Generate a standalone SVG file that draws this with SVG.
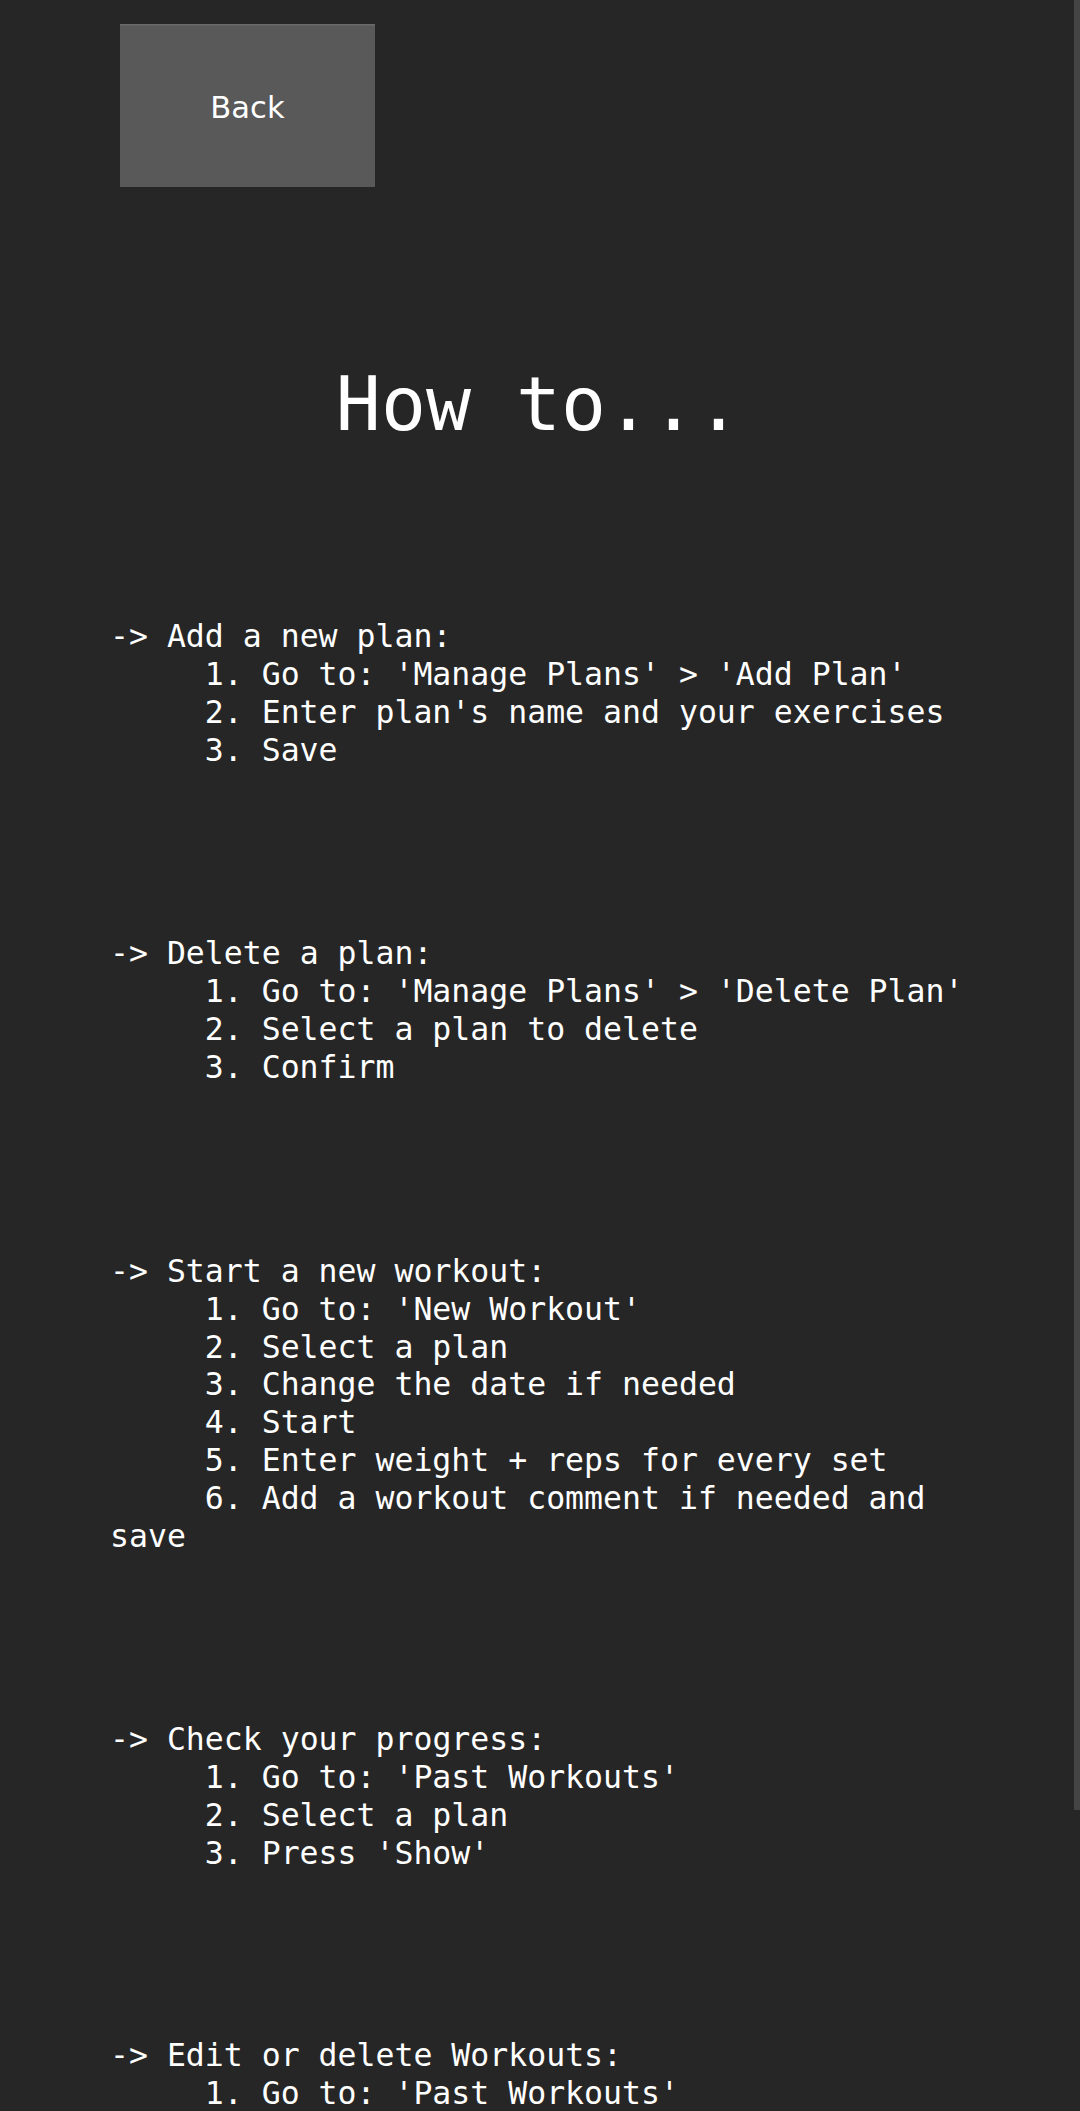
<svg xmlns="http://www.w3.org/2000/svg" width="1080" height="2111" viewBox="0 0 1080 2111">
  <style>
    .bg { fill: #262626; }
    .btn { fill: #595959; }
    .btnedge { fill: #6a6a6a; }
    .btntxt { font-family: "DejaVu Sans", sans-serif; font-size: 30.6px; fill: #ffffff; text-anchor: middle; }
    .title { font-family: "DejaVu Sans Mono", monospace; font-size: 74.8px; fill: #ffffff; text-anchor: middle; }
    .body { font-family: "DejaVu Sans Mono", monospace; font-size: 31.5px; fill: #ffffff; }
    .scroll { fill: #444444; }
  </style>
  <rect class="bg" x="0" y="0" width="1080" height="2111"/>
  <rect class="scroll" x="1074" y="0" width="6" height="1810"/>

  <g id="back-button">
    <rect class="btn" x="120" y="24" width="255" height="163"/>
    <rect class="btnedge" x="120" y="24" width="255" height="1.5"/>
    <text class="btntxt" x="247.5" y="118">Back</text>
  </g>

  <g id="title">
    <text class="title" x="538.5" y="430">How to...</text>
  </g>

  <g id="section-add-plan" class="body">
    <text x="110" y="647.3">-&gt; Add a new plan:</text>
    <text x="204.8" y="685.2">1. Go to: 'Manage Plans' &gt; 'Add Plan'</text>
    <text x="204.8" y="723.1">2. Enter plan's name and your exercises</text>
    <text x="204.8" y="761">3. Save</text>
  </g>

  <g id="section-delete-plan" class="body">
    <text x="110" y="964.4">-&gt; Delete a plan:</text>
    <text x="204.8" y="1002.3">1. Go to: 'Manage Plans' &gt; 'Delete Plan'</text>
    <text x="204.8" y="1040.2">2. Select a plan to delete</text>
    <text x="204.8" y="1078.1">3. Confirm</text>
  </g>

  <g id="section-new-workout" class="body">
    <text x="110" y="1281.7">-&gt; Start a new workout:</text>
    <text x="204.8" y="1319.6">1. Go to: 'New Workout'</text>
    <text x="204.8" y="1357.5">2. Select a plan</text>
    <text x="204.8" y="1395.4">3. Change the date if needed</text>
    <text x="204.8" y="1433.3">4. Start</text>
    <text x="204.8" y="1471.2">5. Enter weight + reps for every set</text>
    <text x="204.8" y="1509.1">6. Add a workout comment if needed and</text>
    <text x="110" y="1547">save</text>
  </g>

  <g id="section-progress" class="body">
    <text x="110" y="1750.1">-&gt; Check your progress:</text>
    <text x="204.8" y="1788">1. Go to: 'Past Workouts'</text>
    <text x="204.8" y="1825.9">2. Select a plan</text>
    <text x="204.8" y="1863.8">3. Press 'Show'</text>
  </g>

  <g id="section-edit-workouts" class="body">
    <text x="110" y="2066">-&gt; Edit or delete Workouts:</text>
    <text x="204.8" y="2103.9">1. Go to: 'Past Workouts'</text>
  </g>
</svg>
